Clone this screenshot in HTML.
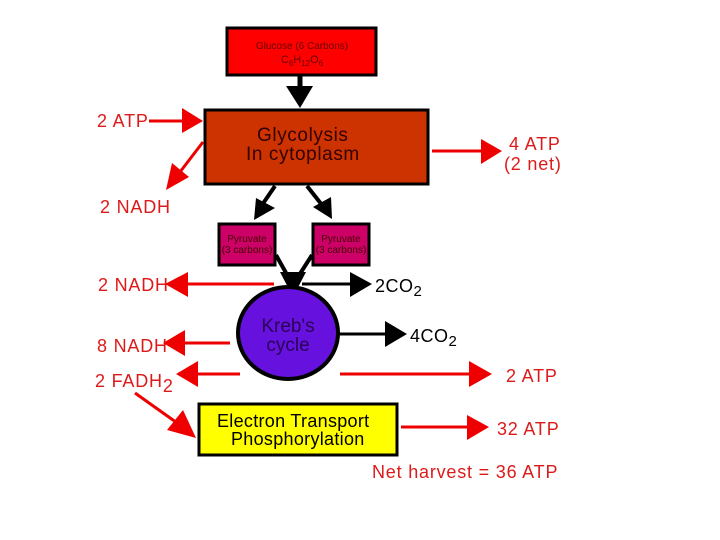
<!DOCTYPE html>
<html><head><meta charset="utf-8"><style>
html,body{margin:0;padding:0;background:#fff;}
svg{display:block;}
text{font-family:"Liberation Sans","DejaVu Sans",sans-serif;}
.r{fill:#dd1a1a;font-size:18px;letter-spacing:0.8px;}
</style></head><body>
<svg width="720" height="540" viewBox="0 0 720 540" xmlns="http://www.w3.org/2000/svg">
<rect width="720" height="540" fill="#fff"/>
<rect x="227" y="28" width="149" height="47" fill="#f00" stroke="#000" stroke-width="3"/>
<text x="302" y="49" text-anchor="middle" font-size="10" fill="#600">Glucose (6 Carbons)</text>
<text x="302" y="63" text-anchor="middle" font-size="11" fill="#600">C<tspan font-size="8" dy="3">6</tspan><tspan dy="-3">H</tspan><tspan font-size="8" dy="3">12</tspan><tspan dy="-3">O</tspan><tspan font-size="8" dy="3">6</tspan></text>
<line x1="300" y1="75" x2="300" y2="88" stroke="#000" stroke-width="5"/>
<polygon points="286,86 313,86 300,108" fill="#000"/>
<rect x="205" y="110" width="223" height="74" fill="#cc3300" stroke="#000" stroke-width="3"/>
<text x="257" y="141" font-size="19" letter-spacing="0.6" fill="#300">Glycolysis</text>
<text x="246" y="160" font-size="19" letter-spacing="0.6" fill="#300">In cytoplasm</text>
<text class="r" x="97" y="127">2 ATP</text>
<line x1="149" y1="121" x2="185" y2="121" stroke="#e00" stroke-width="3"/>
<polygon points="182,108 182,133 203,121" fill="#e00"/>
<line x1="203" y1="142" x2="180" y2="172" stroke="#e00" stroke-width="3"/>
<polygon points="166,190 172,163 189,177" fill="#e00"/>
<text class="r" x="100" y="213">2 NADH</text>
<line x1="432" y1="151" x2="484" y2="151" stroke="#e00" stroke-width="3"/>
<polygon points="481,139 481,164 502,151" fill="#e00"/>
<text class="r" x="509" y="150">4 ATP</text>
<text class="r" x="504" y="170">(2 net)</text>
<line x1="275" y1="186" x2="262" y2="205" stroke="#000" stroke-width="4"/>
<polygon points="254,220 256,198 275,208" fill="#000"/>
<line x1="307" y1="186" x2="322" y2="205" stroke="#000" stroke-width="4"/>
<polygon points="332,219 313,207 331,197" fill="#000"/>
<rect x="219" y="224" width="56" height="41" fill="#cc0066" stroke="#000" stroke-width="3"/>
<text x="247" y="242" text-anchor="middle" font-size="10" fill="#400">Pyruvate</text>
<text x="247" y="253" text-anchor="middle" font-size="10" fill="#400">(3 carbons)</text>
<rect x="313" y="224" width="56" height="41" fill="#cc0066" stroke="#000" stroke-width="3"/>
<text x="341" y="242" text-anchor="middle" font-size="10" fill="#400">Pyruvate</text>
<text x="341" y="253" text-anchor="middle" font-size="10" fill="#400">(3 carbons)</text>
<line x1="276" y1="255" x2="290" y2="280" stroke="#000" stroke-width="4"/>
<line x1="312" y1="255" x2="296" y2="280" stroke="#000" stroke-width="4"/>
<polygon points="280,272 306,272 293,297" fill="#000"/>
<text class="r" x="98" y="291">2 NADH</text>
<line x1="274" y1="284" x2="185" y2="284" stroke="#e00" stroke-width="3"/>
<polygon points="188,272 188,297 165,284" fill="#e00"/>
<line x1="302" y1="284" x2="353" y2="284" stroke="#000" stroke-width="3"/>
<polygon points="350,272 350,297 372,284" fill="#000"/>
<text x="375" y="292" font-size="18" letter-spacing="0.5" fill="#000">2CO<tspan font-size="15" dy="4">2</tspan></text>
<ellipse cx="288" cy="333" rx="50" ry="46" fill="#6611dd" stroke="#000" stroke-width="4"/>
<text x="288" y="332" text-anchor="middle" font-size="19" fill="#2a0055">Kreb's</text>
<text x="288" y="351" text-anchor="middle" font-size="19" fill="#2a0055">cycle</text>
<line x1="338" y1="334" x2="388" y2="334" stroke="#000" stroke-width="3"/>
<polygon points="385,321 385,347 407,334" fill="#000"/>
<text x="410" y="342" font-size="18" letter-spacing="0.5" fill="#000">4CO<tspan font-size="15" dy="4">2</tspan></text>
<text class="r" x="97" y="352">8 NADH</text>
<text class="r" x="95" y="387">2 FADH<tspan dy="5">2</tspan></text>
<line x1="230" y1="343" x2="182" y2="343" stroke="#e00" stroke-width="3"/>
<polygon points="185,330 185,356 163,343" fill="#e00"/>
<line x1="240" y1="374" x2="195" y2="374" stroke="#e00" stroke-width="3"/>
<polygon points="198,361 198,387 176,374" fill="#e00"/>
<line x1="340" y1="374" x2="473" y2="374" stroke="#e00" stroke-width="3"/>
<polygon points="469,361 469,387 492,374" fill="#e00"/>
<text class="r" x="506" y="382">2 ATP</text>
<line x1="135" y1="393" x2="180" y2="425" stroke="#e00" stroke-width="3"/>
<polygon points="196,438 167,430 183,410" fill="#e00"/>
<rect x="199" y="404" width="198" height="51" fill="#ffff00" stroke="#000" stroke-width="3"/>
<text x="217" y="427" font-size="18" letter-spacing="0.3" fill="#000">Electron Transport</text>
<text x="231" y="445" font-size="18" letter-spacing="0.3" fill="#000">Phosphorylation</text>
<line x1="401" y1="427" x2="471" y2="427" stroke="#e00" stroke-width="3"/>
<polygon points="467,415 467,440 489,427" fill="#e00"/>
<text class="r" x="497" y="435">32 ATP</text>
<text class="r" x="372" y="478">Net harvest = 36 ATP</text>
</svg>
</body></html>
